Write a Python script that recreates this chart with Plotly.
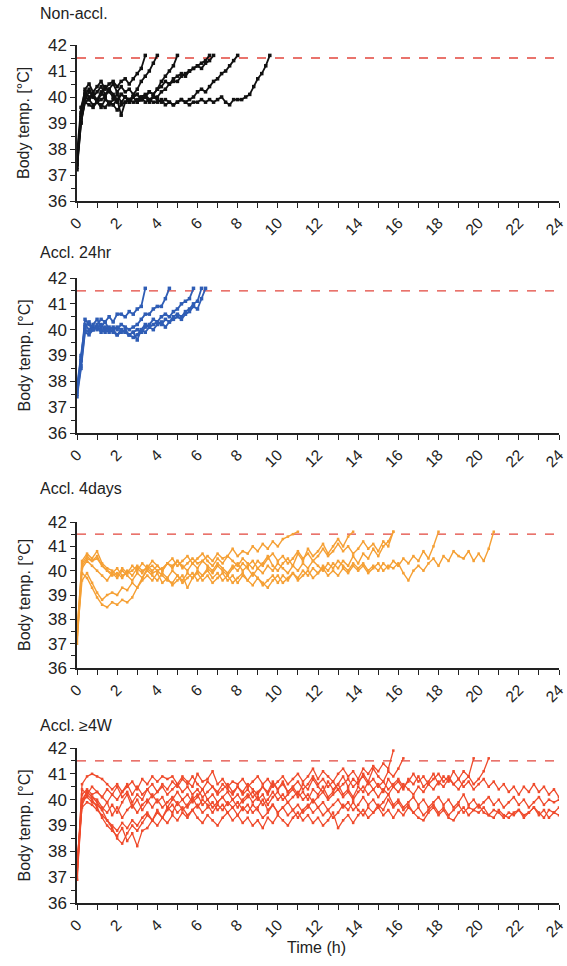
import plotly.graph_objects as go

# ---------------- data ----------------
THRESHOLD = 41.5
STEP_SHORT = 0.2   # h, sampling of panels 1-2
STEP_LONG = 0.25   # h, sampling of panels 3-4
X_TICKS = list(range(0, 25, 2))
Y_TICKS = [36, 37, 38, 39, 40, 41, 42]
PANEL_TITLES = ["Non-accl.", "Accl. 24hr", "Accl. 4days", "Accl. \u22654W"]

non_accl = [
    [37.6, 39.4, 40.3, 40.5, 40.2, 40.4, 40.6, 40.3, 40.5, 40.6, 40.4, 40.6, 40.7, 40.5, 40.7, 40.9, 41.1, 41.6],
    [37.4, 39.2, 40.1, 40.3, 40.0, 40.2, 40.4, 40.1, 40.3, 40.5, 40.2, 40.4, 40.2, 40.3, 40.1, 40.3, 40.6, 40.8, 41.0, 41.3, 41.6],
    [37.8, 39.6, 40.2, 40.0, 40.1, 39.9, 40.2, 40.0, 40.3, 40.1, 39.9, 40.1, 40.0, 39.8, 40.0, 40.1, 39.9, 40.0, 40.2, 40.1,
     40.3, 40.6, 40.8, 41.0, 41.2, 41.6],
    [37.3, 39.0, 39.9, 40.2, 40.0, 39.8, 40.1, 40.4, 40.2, 40.0, 39.8, 40.1, 40.0, 39.8, 40.0, 40.1, 39.9, 40.0, 40.2, 40.1,
     40.3, 40.4, 40.6, 40.5, 40.7, 40.8, 40.9, 40.8, 41.0, 41.1, 41.2, 41.3, 41.4, 41.6],
    [37.5, 39.3, 40.0, 39.9, 40.1, 39.8, 39.9, 40.0, 39.7, 39.9, 40.1, 39.8, 40.0, 39.9, 40.0, 39.8, 40.0, 40.1, 39.9, 40.0,
     40.0, 40.2, 40.3, 40.5, 40.6, 40.6, 40.8, 40.9, 41.0, 41.1, 41.2, 41.1, 41.3, 41.4, 41.6],
    [37.2, 39.0, 39.8, 39.9, 39.7, 39.8, 39.6, 39.9, 39.8, 39.7, 39.9, 39.3, 39.8, 39.9, 40.0, 39.8, 39.9, 40.0, 39.8, 40.0,
     39.9, 39.8, 39.9, 39.8, 39.7, 39.8, 39.9, 39.8, 39.9, 40.0, 40.2, 40.3, 40.2, 40.4, 40.6, 40.7, 40.9, 41.0, 41.2, 41.4, 41.6],
    [37.4, 39.1, 39.8, 39.7, 39.6, 39.8, 39.7, 39.6, 39.8, 39.7, 39.5, 39.7, 39.8, 39.9, 39.8, 39.9, 40.0, 39.8, 39.9, 39.8,
     39.8, 39.9, 39.7, 39.8, 39.7, 39.8, 39.9, 39.8, 39.7, 39.8, 39.8, 39.9, 39.8, 39.9, 39.8, 39.9, 40.0, 39.8, 39.7, 39.9,
     39.9, 39.9, 40.0, 40.1, 40.4, 40.7, 40.9, 41.2, 41.6],
]

accl_24hr = [
    [37.6, 38.8, 40.4, 40.2, 40.0, 40.2, 40.4, 40.3, 40.5, 40.3, 40.6, 40.6, 40.5, 40.7, 40.6, 40.8, 40.9, 41.6],
    [37.8, 39.0, 40.2, 40.0, 40.2, 40.4, 40.1, 40.3, 40.0, 40.1, 40.0, 40.2, 40.1, 40.0, 40.1, 40.2, 40.4, 40.6, 40.6, 40.8,
     40.9, 40.9, 41.2, 41.6],
    [37.5, 38.6, 40.0, 39.9, 40.1, 40.0, 40.2, 40.0, 39.9, 40.0, 39.8, 40.0, 39.9, 39.8, 39.9, 40.0, 39.9, 40.1, 40.2, 40.4,
     40.3, 40.5, 40.6, 40.5, 40.7, 40.8, 41.0, 41.1, 41.2, 41.6],
    [37.7, 38.9, 40.1, 40.3, 40.0, 40.1, 39.9, 40.1, 40.0, 39.9, 39.8, 39.9, 40.0, 39.8, 39.7, 39.8, 40.0, 39.9, 40.1, 40.0,
     40.2, 40.3, 40.1, 40.3, 40.4, 40.5, 40.4, 40.6, 40.7, 40.9, 40.8, 41.2, 41.6],
    [37.4, 38.5, 39.9, 39.8, 40.0, 40.1, 40.0, 39.9, 40.1, 40.0, 40.1, 40.0, 39.9, 39.8, 39.9, 39.6, 40.0, 40.2, 40.1, 40.2,
     40.3, 40.2, 40.4, 40.3, 40.5, 40.6, 40.5, 40.7, 40.8, 41.0, 41.1, 41.6],
]

accl_4days = [
    [37.2, 40.2, 40.5, 40.4, 40.6, 40.2, 40.0, 39.9, 40.1, 39.8, 39.9, 40.0, 40.2, 40.0, 40.1, 40.2,
     40.0, 40.1, 40.3, 40.2, 40.4, 40.1, 40.3, 40.5, 40.3, 40.4, 40.6, 40.4, 40.7, 40.5, 40.6, 40.9,
     40.6, 40.8, 40.7, 41.0, 40.8, 41.1, 40.9, 41.2, 41.0, 41.3, 41.4, 41.5, 41.6],
    [37.0, 39.9, 39.7, 39.3, 38.9, 38.6, 38.5, 38.7, 38.6, 38.8, 38.7, 38.9, 39.3, 39.7, 40.1, 39.9,
     40.0, 39.8, 39.6, 39.5, 39.8, 39.6, 39.9, 39.7, 40.0, 39.8, 40.1, 39.9, 40.2, 40.0, 39.8, 40.1,
     40.3, 40.0, 40.2, 40.4, 40.1, 40.3, 40.6, 40.2, 40.0, 40.3, 40.5, 40.2, 40.7, 40.4, 40.9, 40.6,
     40.8, 41.1, 40.7, 41.0, 41.3, 41.0, 41.4, 41.6],
    [37.3, 39.6, 39.9, 39.5, 39.1, 38.8, 39.0, 39.1, 39.0, 39.3, 39.2, 39.5, 39.3, 39.6, 39.8, 39.6,
     39.9, 39.5, 39.7, 39.4, 39.6, 39.8, 39.3, 39.7, 39.9, 39.6, 39.8, 39.5, 39.7, 39.9, 39.6, 39.8,
     39.5, 39.8, 39.6, 39.9, 39.7, 39.4, 39.6, 39.8, 39.5, 39.8, 39.6, 39.9, 39.7, 40.0, 39.8, 40.1,
     39.9, 40.2, 40.0, 40.3, 40.1, 40.4, 40.2, 40.6, 40.3, 40.7, 40.5, 40.9, 40.6, 41.0, 41.2, 41.6],
    [37.5, 40.3, 40.6, 40.4, 40.5, 40.2, 40.0, 39.8, 39.9, 39.7, 40.0, 39.8, 40.1, 39.9, 40.2, 40.0,
     40.2, 40.0, 40.3, 40.1, 40.4, 40.2, 40.0, 40.3, 40.1, 40.4, 40.2, 40.0, 40.3, 40.1, 39.9, 40.2,
     40.0, 40.3, 40.1, 39.8, 40.1, 39.9, 40.2, 40.0, 40.3, 40.1, 39.9, 40.2, 40.0, 40.3, 40.1, 40.4,
     40.2, 40.0, 40.3, 40.1, 40.4, 40.2, 40.0, 40.3, 40.1, 40.3, 40.0, 40.2, 40.0, 40.3, 40.1, 40.4,
     40.2, 40.5, 40.3, 40.6, 40.4, 40.8, 40.5, 41.0, 41.6],
    [37.1, 40.1, 40.4, 40.2, 40.0, 39.8, 39.6, 39.9, 39.7, 40.0, 39.8, 39.6, 39.9, 39.7, 40.0, 39.8,
     39.6, 39.9, 39.7, 40.0, 39.8, 39.5, 39.7, 39.9, 39.6, 39.8, 40.0, 39.7, 39.9, 39.6, 39.8, 39.5,
     39.7, 39.9, 39.6, 39.4, 39.7, 39.5, 39.3, 39.6, 39.8, 39.5, 39.7, 39.9, 39.6, 39.8, 40.0, 39.7,
     39.9, 40.1, 39.8, 40.0, 39.8, 40.1, 39.9, 40.2, 40.0, 40.2, 39.9, 40.1, 40.3, 40.0, 40.2, 40.1,
     40.3, 39.9, 39.6, 40.0, 40.2, 40.0, 40.3, 40.5, 40.2, 40.6, 40.4, 40.8, 40.6, 40.5, 40.8, 40.4,
     40.7, 40.4, 40.9, 41.6],
    [37.4, 40.4, 40.7, 40.5, 40.8, 40.3, 40.1, 40.0, 39.8, 40.1, 39.9, 40.2, 40.0, 40.3, 40.1, 40.4,
     40.2, 40.0, 40.3, 40.5, 40.2, 40.4, 40.6, 40.3, 40.5, 40.7, 40.4, 40.2, 40.5, 40.3, 40.6, 40.4,
     40.2, 40.5, 40.3, 40.1, 40.4, 40.2, 40.5, 40.7, 40.4, 40.6, 40.3, 40.5, 40.8, 40.5, 40.7, 40.4,
     40.6, 40.9, 40.6, 40.8, 41.1, 40.8, 41.0, 40.7, 40.9, 41.2, 40.9, 41.1, 40.8, 41.2, 41.0, 41.6],
]

accl_4w = [
    [36.9, 40.6, 40.9, 41.0, 40.9, 40.8, 40.6, 40.4, 40.6, 40.3, 40.5, 40.7, 40.4, 40.8, 40.6, 40.9,
     40.7, 40.9, 40.8, 40.9, 40.6, 40.9, 40.7, 40.5, 41.0, 40.7, 40.8, 41.1, 40.6, 40.8, 40.5, 40.7,
     40.6, 40.8, 40.5, 40.7, 40.9, 40.6, 40.8, 40.5, 40.7, 40.9, 40.6, 40.8, 41.0, 40.7, 40.9, 41.2,
     40.8, 41.1, 40.9, 40.7, 41.0, 41.2, 40.9, 41.1, 40.8, 41.2, 41.0, 41.3, 41.1, 41.4, 41.2, 41.9],
    [37.2, 40.2, 40.4, 40.2, 40.3, 40.1, 39.9, 40.2, 40.0, 40.3, 40.6, 40.2, 40.5, 40.2, 40.4, 40.6,
     40.3, 40.5, 40.2, 40.4, 40.6, 40.3, 40.5, 40.2, 40.4, 40.1, 40.3, 40.5, 40.2, 40.4, 40.6, 40.3,
     40.5, 40.2, 40.4, 40.1, 40.3, 40.5, 40.2, 40.6, 40.4, 40.7, 40.3, 40.5, 40.2, 40.6, 40.4, 40.8,
     40.5, 40.3, 40.7, 40.4, 40.6, 40.9, 40.5, 40.8, 40.6, 41.0, 40.7, 41.2, 40.9, 40.7, 41.1, 40.9,
     41.2, 41.6],
    [37.0, 39.9, 40.3, 40.1, 40.0, 39.7, 39.5, 39.8, 39.5, 39.9, 40.2, 39.7, 40.0, 39.6, 39.9, 40.2,
     39.9, 40.1, 39.7, 40.0, 40.3, 40.0, 40.2, 39.9, 40.1, 40.4, 40.0, 40.2, 39.9, 40.1, 40.3, 40.0,
     40.2, 39.9, 40.1, 40.3, 40.0, 40.2, 39.8, 40.1, 40.3, 40.0, 40.2, 40.4, 40.1, 40.3, 40.0, 40.4,
     40.2, 40.5, 40.1, 40.3, 40.6, 40.2, 40.4, 40.1, 40.5, 40.3, 40.7, 40.4, 40.6, 40.3, 40.8, 40.5,
     40.7, 40.4, 40.8, 40.6, 40.9, 40.5, 40.7, 41.0, 40.6, 40.9, 40.7, 41.1, 40.8, 41.1, 40.9, 41.6],
    [37.4, 40.0, 40.1, 39.9, 39.8, 39.6, 39.9, 39.4, 39.7, 39.3, 39.6, 39.8, 39.5, 39.8, 40.0, 39.7,
     40.0, 39.7, 39.9, 40.1, 39.8, 40.0, 39.7, 40.0, 40.2, 39.8, 40.0, 39.7, 39.9, 40.1, 39.8, 40.0,
     39.7, 40.0, 40.2, 39.9, 40.1, 39.8, 40.0, 40.3, 40.0, 40.2, 39.9, 40.1, 40.3, 40.0, 40.2, 39.9,
     40.1, 40.3, 40.0, 40.2, 40.4, 40.1, 40.3, 40.0, 40.3, 40.5, 40.2, 40.4, 40.1, 40.4, 40.2, 40.5,
     40.3, 40.6, 40.4, 40.2, 40.5, 40.3, 40.6, 40.4, 40.7, 40.5, 40.8, 40.6, 40.4, 40.7, 40.9, 40.6,
     40.8, 41.1, 41.6],
    [37.6, 39.7, 39.9, 39.8, 39.6, 39.4, 39.2, 39.0, 38.8, 39.1, 38.9, 39.2, 39.0, 39.3, 39.5, 39.2,
     39.5, 39.3, 39.6, 39.8, 39.5, 39.7, 39.4, 39.6, 39.8, 39.5, 39.7, 39.9, 39.6, 39.8, 39.5, 39.7,
     39.9, 39.6, 39.8, 39.5, 39.7, 40.0, 39.6, 39.8, 39.5, 39.7, 39.9, 39.6, 39.8, 39.5, 39.7, 40.0,
     39.7, 39.9, 39.6, 39.8, 40.0, 39.7, 39.9, 39.6, 39.8, 40.1, 39.8, 40.0, 39.7, 39.9, 40.2, 39.8,
     40.0, 39.7, 39.9, 40.1, 39.8, 40.0, 39.7, 39.9, 40.1, 39.8, 40.0, 39.7, 39.9, 40.2, 39.8, 40.0,
     39.7, 39.9, 40.1, 39.8, 40.0, 39.7, 39.9, 40.1, 39.8, 40.0, 39.7, 39.9, 40.1, 39.8, 40.0, 39.9,
     40.0],
    [36.9, 39.8, 40.2, 40.0, 39.7, 39.3, 39.0, 38.8, 38.6, 38.9, 38.4, 38.7, 38.2, 38.8, 38.9, 39.2,
     39.0, 39.3, 39.1, 39.4, 39.2, 39.5, 39.3, 39.6, 39.3, 39.1, 39.4, 39.2, 39.0, 39.3, 39.5, 39.2,
     39.4, 39.1, 39.3, 39.0, 39.2, 38.9, 39.3, 39.1, 39.4, 39.2, 39.0, 39.3, 39.5, 39.2, 39.4, 39.1,
     39.3, 39.0, 39.2, 39.5, 38.9, 39.2, 39.4, 39.1, 39.4, 39.6, 39.3, 39.5, 39.7, 39.4, 39.6, 39.3,
     39.6, 39.4, 39.7, 39.5, 39.3, 39.2, 39.5, 39.7, 39.4, 39.6, 39.3, 39.2, 39.5, 39.7, 39.4, 39.6,
     39.5, 39.7, 39.4, 39.3, 39.6, 39.4, 39.3, 39.5, 39.6, 39.4, 39.5, 39.7, 39.5, 39.3, 39.6, 39.5,
     39.7],
    [37.1, 40.0, 40.3, 40.1, 39.9, 39.6, 39.2, 38.9, 38.5, 38.3, 38.7, 39.0, 38.8, 39.1, 39.4, 39.2,
     39.6, 39.3, 39.7, 39.5, 39.9, 39.6, 39.8, 40.1, 39.7, 40.0, 39.8, 39.5, 39.8, 39.6, 39.9, 39.7,
     39.4, 39.7, 39.5, 39.8, 39.6, 39.3, 39.5, 39.8, 39.5, 39.7, 39.4, 39.6, 39.3, 39.6, 39.8, 39.5,
     39.7, 39.4, 39.6, 39.3, 39.5, 39.8, 39.6, 39.9, 39.6, 39.4, 39.7, 39.5, 39.8, 39.6, 40.0, 39.7,
     39.9, 39.6, 39.8, 39.5, 39.7, 39.4, 39.6, 39.8, 39.5, 39.7, 39.4, 39.6, 39.8, 39.5, 39.7, 39.6,
     39.8, 39.5, 39.4, 39.6, 39.5, 39.3, 39.5, 39.4, 39.6, 39.3, 39.5, 39.7, 39.4, 39.6, 39.3, 39.5,
     39.4],
    [37.3, 40.4, 40.2, 40.5, 40.3, 40.1, 40.4, 40.2, 40.5, 40.1, 40.3, 39.9, 40.2, 40.0, 40.4, 40.1,
     40.3, 40.6, 40.4, 40.7, 40.5, 40.8, 40.6, 40.9, 40.6, 40.4, 40.7, 40.5, 40.3, 40.6, 40.4, 40.2,
     40.5, 40.3, 40.6, 40.4, 40.2, 40.5, 40.3, 40.7, 40.4, 40.6, 40.3, 40.5, 40.7, 40.4, 40.6, 40.9,
     40.6, 40.8, 40.5, 40.7, 40.4, 40.6, 40.8, 40.5, 40.7, 40.9, 40.6, 40.8, 40.5, 40.7, 40.4, 40.6,
     40.8, 40.5, 40.7, 41.0, 40.7, 40.9, 40.6, 40.8, 41.0, 40.7, 40.9, 40.6, 40.8, 40.5, 40.7, 40.4,
     40.6, 40.8, 40.5, 40.7, 40.4, 40.6, 40.3, 40.5, 40.2, 40.5, 40.3, 40.6, 40.3, 40.5, 40.2, 40.4,
     40.1],
]

# ---------------- style ----------------
W, H = 567, 966
COLORS = ["#111111", "#2f5db5", "#f5a035", "#ef4a2b"]
WIDTHS = [1.8, 1.8, 1.4, 1.3]
MARKERS = [3.5, 3.5, 2.5, 2.5]
FONT = "Liberation Sans, Arial, sans-serif"
YTICK_SIZE = 17
XTICK_SIZE = 15.5
TXT = "#222"
X_LEFT, X_RIGHT = 77, 559
# (top px, bottom px) of each plot area
PANEL_PX = [(45, 201), (278, 433), (522, 668), (748, 903)]
TITLE_Y = [14, 252, 488, 725]

series = [(non_accl, STEP_SHORT), (accl_24hr, STEP_SHORT), (accl_4days, STEP_LONG), (accl_4w, STEP_LONG)]

fig = go.Figure()
layout = dict(
    width=W, height=H,
    margin=dict(l=0, r=0, t=0, b=0),
    paper_bgcolor="white", plot_bgcolor="white",
    showlegend=False,
    font=dict(family=FONT, color=TXT, size=15),
    shapes=[], annotations=[],
)

for i, ((group, step), col, lw, ms) in enumerate(zip(series, COLORS, WIDTHS, MARKERS)):
    ax = "" if i == 0 else str(i + 1)
    xa, ya = "x" + ax, "y" + ax
    for vals in group:
        fig.add_trace(go.Scatter(
            x=[k * step for k in range(len(vals))], y=vals,
            mode="lines+markers", line=dict(color=col, width=lw),
            marker=dict(color=col, size=ms, symbol="square"),
            xaxis=xa, yaxis=ya, hoverinfo="skip", cliponaxis=True,
        ))
    top, bot = PANEL_PX[i]
    dom_y = [1 - bot / H, 1 - top / H]
    layout["xaxis" + ax] = dict(
        domain=[X_LEFT / W, X_RIGHT / W], range=[0, 24], anchor=ya,
        tickvals=X_TICKS, ticktext=[str(v) for v in X_TICKS], tickangle=-45,
        ticks="outside", ticklen=5, tickwidth=1.3, tickcolor=TXT,
        minor=dict(dtick=1, tick0=0, ticks="outside", ticklen=5, tickwidth=1.3, tickcolor=TXT),
        showline=True, linecolor=TXT, linewidth=1.5, showgrid=False, zeroline=False,
        tickfont=dict(size=XTICK_SIZE, family=FONT, color=TXT), automargin=False,
        ticklabeloverflow="allow", fixedrange=True,
    )
    layout["yaxis" + ax] = dict(
        domain=dom_y, range=[36, 42], anchor=xa,
        tickvals=Y_TICKS, ticks="outside", ticklen=5, tickwidth=1.3, tickcolor=TXT,
        minor=dict(dtick=0.5, tick0=36, ticks="outside", ticklen=4, tickwidth=1.2, tickcolor=TXT),
        showline=True, linecolor=TXT, linewidth=1.5, showgrid=False, zeroline=False,
        tickfont=dict(size=YTICK_SIZE, family=FONT, color=TXT), automargin=False,
        ticklabeloverflow="allow", fixedrange=True,
    )
    layout["shapes"].append(dict(
        type="line", xref=xa, yref=ya, x0=0, x1=24, y0=THRESHOLD, y1=THRESHOLD,
        line=dict(color="#e2463c", width=1.3, dash="dash"), layer="below",
    ))
    layout["annotations"].append(dict(
        text=PANEL_TITLES[i], xref="paper", yref="paper",
        x=38 / W, y=1 - TITLE_Y[i] / H, xanchor="left", yanchor="middle",
        showarrow=False, font=dict(size=16, family=FONT, color=TXT),
    ))
    layout["annotations"].append(dict(
        text="Body temp. [\u00b0C]", xref="paper", yref="paper",
        x=24 / W, y=1 - (top + bot) / 2 / H, xanchor="center", yanchor="middle",
        textangle=-90, showarrow=False, font=dict(size=16, family=FONT, color=TXT),
    ))

layout["annotations"].append(dict(
    text="Time (h)", xref="paper", yref="paper",
    x=316 / W, y=1 - 947 / H, xanchor="center", yanchor="middle",
    showarrow=False, font=dict(size=16, family=FONT, color=TXT),
))

fig.update_layout(**layout)
fig.write_html("out.html")
